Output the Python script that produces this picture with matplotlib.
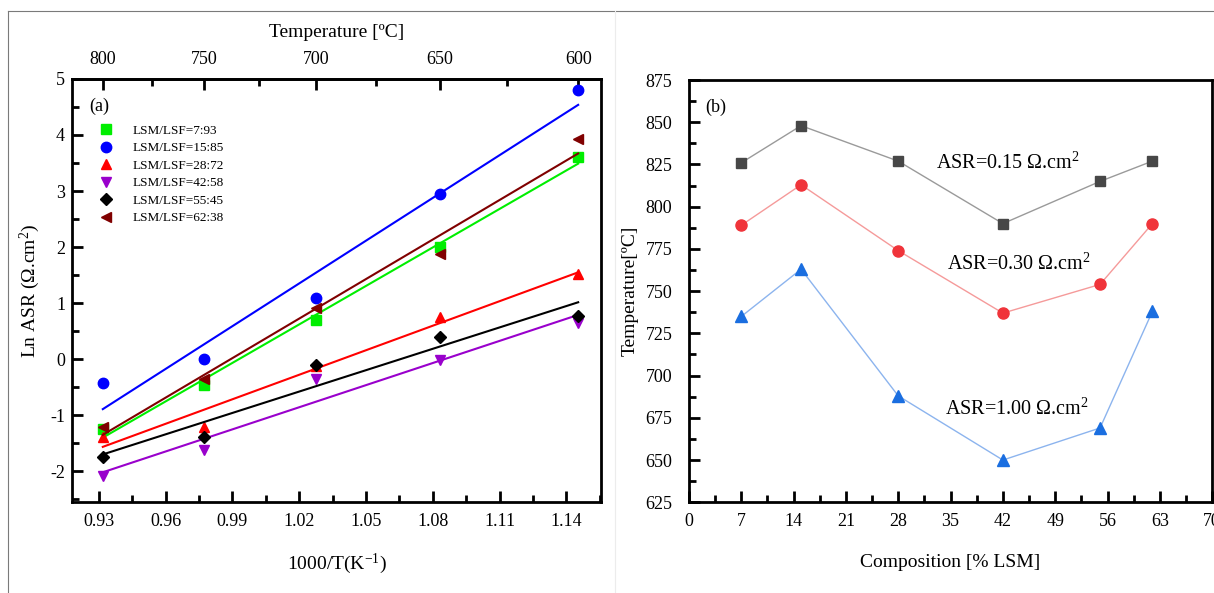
import numpy as np
import matplotlib
matplotlib.use('Agg')
import matplotlib.pyplot as plt
from matplotlib.ticker import MultipleLocator, FixedLocator
from matplotlib.lines import Line2D

plt.rcParams['font.family'] = ['Liberation Serif', 'DejaVu Serif']
plt.rcParams['mathtext.fontset'] = 'custom'
plt.rcParams['mathtext.rm'] = 'Liberation Serif'
plt.rcParams['mathtext.it'] = 'Liberation Serif:italic'
plt.rcParams['axes.unicode_minus'] = False

# --- (a) Arrhenius data ---
temps_c = [800, 750, 700, 650, 600]
labels_a = ['LSM/LSF=7:93', 'LSM/LSF=15:85', 'LSM/LSF=28:72',
            'LSM/LSF=42:58', 'LSM/LSF=55:45', 'LSM/LSF=62:38']
ln_asr_7 = [-1.25, -0.45, 0.70, 2.00, 3.60]
ln_asr_15 = [-0.43, 0.00, 1.10, 2.95, 4.80]
ln_asr_28 = [-1.38, -1.20, -0.12, 0.75, 1.52]
ln_asr_42 = [-2.08, -1.62, -0.35, -0.02, 0.65]
ln_asr_55 = [-1.75, -1.38, -0.10, 0.40, 0.78]
ln_asr_62 = [-1.20, -0.35, 0.92, 1.87, 3.92]
colors_a = ['#00ee00', '#0000ff', '#ff0000', '#9900cc', '#000000', '#800000']
markers_a = ['s', 'o', '^', 'v', 'D', '<']

# --- (b) composition data ---
composition = [7, 15, 28, 42, 55, 62]
t_asr015 = [826, 848, 827, 790, 815, 827]
t_asr030 = [789, 813, 774, 737, 754, 790]
t_asr100 = [735, 763, 688, 650, 669, 738]

fig = plt.figure(figsize=(12.14, 5.93), dpi=100)

# thin frame round the figure
fig.add_artist(Line2D([0.007, 1.0], [0.981, 0.981], color='#7a7a7a', lw=0.8))
fig.add_artist(Line2D([0.007, 0.007], [0.0, 0.981], color='#7a7a7a', lw=0.8))
fig.add_artist(Line2D([0.507, 0.507], [0.0, 0.981], color='#ececec', lw=0.8))

ax1 = fig.add_axes([0.0593, 0.153, 0.4357, 0.714])
x_inv = 1000.0 / (np.array(temps_c) + 273.15)
series = [ln_asr_7, ln_asr_15, ln_asr_28, ln_asr_42, ln_asr_55, ln_asr_62]
for y, c, m, lab in zip(series, colors_a, markers_a, labels_a):
    ms = 6.5 if m == 'D' else 7.5
    ax1.plot(x_inv, y, ls='none', marker=m, color=c, ms=ms, label=lab)
    k, b = np.polyfit(x_inv, y, 1)
    ax1.plot(x_inv, k * x_inv + b, color=c, lw=1.5)

ax1.set_xlim(0.918, 1.1555)
ax1.set_ylim(-2.55, 5)
ax1.xaxis.set_major_locator(FixedLocator([0.93, 0.96, 0.99, 1.02, 1.05, 1.08, 1.11, 1.14]))
ax1.xaxis.set_minor_locator(MultipleLocator(0.015))
ax1.yaxis.set_major_locator(MultipleLocator(1))
ax1.yaxis.set_minor_locator(MultipleLocator(0.5))
ax1.set_xticklabels(['0.93', '0.96', '0.99', '1.02', '1.05', '1.08', '1.11', '1.14'])
ax1.tick_params(which='both', direction='in', labelsize=13, width=2)
ax1.tick_params(which='major', length=8)
ax1.tick_params(which='minor', length=5)
ax1.tick_params(axis='x', pad=8)
ax1.tick_params(axis='y', pad=5)
for s in ax1.spines.values():
    s.set_linewidth(2)
ax1.set_xlabel('1000/T(K$^{-1}$)', fontsize=14, labelpad=15)
ax1.set_ylabel('Ln ASR (Ω.cm$^{2}$)', fontsize=14, labelpad=6)
ax1.text(0.032, 0.955, '(a)', transform=ax1.transAxes, fontsize=13, va='top')
ax1.legend(loc='upper left', bbox_to_anchor=(0.03, 0.905), frameon=False,
           fontsize=9.5, handletextpad=1.0, labelspacing=0.4, borderaxespad=0)

sec = ax1.secondary_xaxis('top', functions=(lambda x: 1000.0 / x - 273.15,
                                             lambda t: 1000.0 / (t + 273.15)))
sec.xaxis.set_major_locator(FixedLocator([800, 750, 700, 650, 600]))
sec.xaxis.set_minor_locator(FixedLocator([775, 725, 675, 625]))
sec.tick_params(which='both', direction='in', labelsize=13, width=2, pad=8)
sec.tick_params(which='major', length=8)
sec.tick_params(which='minor', length=5)
sec.spines['top'].set_linewidth(2)
sec.set_xlabel('Temperature [ºC]', fontsize=14, labelpad=10)

# --- (b) ---
ax2 = fig.add_axes([0.5675, 0.153, 0.431, 0.712])
ax2.plot(composition, t_asr015, color='#9a9a9a', lw=1.0)
ax2.plot(composition, t_asr015, ls='none', marker='s', color='#474747', ms=7.5)
ax2.plot(composition, t_asr030, color='#f59a9a', lw=1.0)
ax2.plot(composition, t_asr030, ls='none', marker='o', color='#f0343a', ms=8)
ax2.plot(composition, t_asr100, color='#8cb4ee', lw=1.0)
ax2.plot(composition, t_asr100, ls='none', marker='^', color='#1a6ee0', ms=8.5)

ax2.set_xlim(0, 70)
ax2.set_ylim(625, 875)
ax2.xaxis.set_major_locator(MultipleLocator(7))
ax2.xaxis.set_minor_locator(MultipleLocator(3.5))
ax2.yaxis.set_major_locator(MultipleLocator(25))
ax2.yaxis.set_minor_locator(MultipleLocator(12.5))
ax2.tick_params(which='both', direction='in', labelsize=13, width=2)
ax2.tick_params(which='major', length=8)
ax2.tick_params(which='minor', length=5)
ax2.tick_params(axis='x', pad=8)
ax2.tick_params(axis='y', pad=12)
for s in ax2.spines.values():
    s.set_linewidth(2)
ax2.set_xlabel('Composition [% LSM]', fontsize=14, labelpad=17)
ax2.set_ylabel('Temperature[ºC]', fontsize=14, labelpad=5)
ax2.text(0.032, 0.955, '(b)', transform=ax2.transAxes, fontsize=13, va='top')
ax2.text(33, 826, 'ASR=0.15 Ω.cm$^{2}$', fontsize=14.5, va='center')
ax2.text(34.5, 766, 'ASR=0.30 Ω.cm$^{2}$', fontsize=14.5, va='center')
ax2.text(34.2, 680, 'ASR=1.00 Ω.cm$^{2}$', fontsize=14.5, va='center')

fig.savefig('out.png', dpi=100)
